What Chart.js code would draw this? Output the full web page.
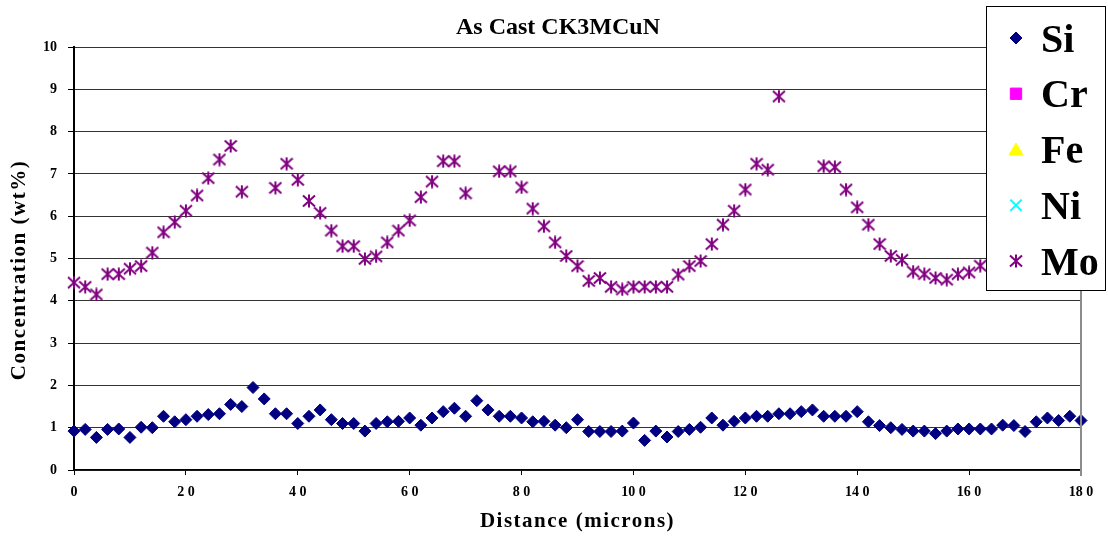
<!DOCTYPE html>
<html>
<head>
<meta charset="utf-8">
<title>As Cast CK3MCuN</title>
<script src="https://cdn.jsdelivr.net/npm/chart.js@4.4.1/dist/chart.umd.min.js"></script>
<style>
  html, body { margin: 0; padding: 0; background: #fff; }
  canvas { display: block; }
</style>
</head>
<body>
<canvas id="profileChart" width="1108" height="537"></canvas>
<script>
// Line scan across the as-cast structure, one reading every 2 microns
const chartTitle = 'As Cast CK3MCuN';
const yAxisTitle = 'Concentration (wt%)';

const distance = [
    0, 2, 4, 6, 8, 10, 12, 14, 16, 18,
    20, 22, 24, 26, 28, 30, 32, 34, 36, 38,
    40, 42, 44, 46, 48, 50, 52, 54, 56, 58,
    60, 62, 64, 66, 68, 70, 72, 74, 76, 78,
    80, 82, 84, 86, 88, 90, 92, 94, 96, 98,
    100, 102, 104, 106, 108, 110, 112, 114, 116, 118,
    120, 122, 124, 126, 128, 130, 132, 134, 136, 138,
    140, 142, 144, 146, 148, 150, 152, 154, 156, 158,
    160, 162, 164, 166, 168, 170, 172, 174, 176, 178,
    180
];

const xTickLabels = ['0', '2 0', '4 0', '6 0', '8 0', '10 0', '12 0', '14 0', '16 0', '18 0'];

const siValues = [
    0.92, 0.96, 0.77, 0.96, 0.97, 0.77, 1.01, 1.00, 1.27, 1.14,
    1.19, 1.27, 1.31, 1.33, 1.55, 1.50, 1.95, 1.68, 1.33, 1.33,
    1.10, 1.27, 1.42, 1.19, 1.10, 1.10, 0.92, 1.10, 1.14, 1.15,
    1.23, 1.06, 1.23, 1.38, 1.46, 1.27, 1.64, 1.42, 1.27, 1.27,
    1.23, 1.14, 1.15, 1.06, 1.00, 1.19, 0.91, 0.91, 0.91, 0.92,
    1.11, 0.70, 0.92, 0.78, 0.91, 0.96, 1.01, 1.23, 1.06, 1.15,
    1.23, 1.27, 1.27, 1.33, 1.33, 1.38, 1.42, 1.27, 1.27, 1.27,
    1.38, 1.14, 1.05, 1.00, 0.96, 0.92, 0.92, 0.86, 0.92, 0.97,
    0.97, 0.97, 0.97, 1.06, 1.05, 0.91, 1.14, 1.23, 1.17, 1.27,
    1.17
];

// null = no reading kept at that spot
const moValues = [
    4.43, 4.33, 4.15, 4.63, 4.63, 4.76, 4.82, 5.14, 5.62, 5.86,
    6.13, 6.49, 6.90, 7.34, 7.66, 6.58, null, null, 6.67, 7.24,
    6.86, 6.36, 6.08, 5.66, 5.29, 5.29, 4.99, 5.05, 5.38, 5.66,
    5.90, 6.45, 6.82, 7.30, 7.30, 6.54, null, null, 7.06, 7.06,
    6.68, 6.18, 5.76, 5.38, 5.06, 4.82, 4.47, 4.54, 4.33, 4.27,
    4.33, 4.33, 4.33, 4.33, 4.62, 4.82, 4.94, 5.34, 5.80, 6.13,
    6.63, 7.24, 7.10, 8.83, null, null, null, 7.18, 7.16, 6.63,
    6.21, 5.80, 5.34, 5.06, 4.97, 4.69, 4.63, 4.54, 4.50, 4.63,
    4.67, 4.83
];

const crValues = [];
const feValues = [];
const niValues = [];

function toPoints(values) {
    return values
        .map((v, i) => ({ x: distance[i], y: v }))
        .filter(p => p.y !== null);
}

// Excel style asterisk: an X with a vertical bar through it
function asteriskMarker(color) {
    const size = 14;
    const c = document.createElement('canvas');
    c.width = size;
    c.height = size;
    const g = c.getContext('2d');
    g.strokeStyle = color;
    g.lineWidth = 2;
    g.beginPath();
    g.moveTo(7, 0.5);  g.lineTo(7, 13.5);
    g.moveTo(1, 1.5);  g.lineTo(13, 12.5);
    g.moveTo(13, 1.5); g.lineTo(1, 12.5);
    g.stroke();
    return c;
}

const serif = '"Liberation Serif", "Times New Roman", Times, serif';
Chart.defaults.font.family = serif;
Chart.defaults.color = '#000';

// the x axis title is spaced out a little; tick labels are not
const spacedTitles = {
    id: 'spacedTitles',
    beforeDraw(chart) { chart.ctx.letterSpacing = '1.5px'; },
    beforeDatasetsDraw(chart) { chart.ctx.letterSpacing = '0px'; }
};

// titles, right frame line and the boxed legend sitting over the plot
const boxLegend = {
    id: 'boxLegend',
    afterDraw(chart, args, opts) {
        const ctx = chart.ctx;
        const area = chart.chartArea;
        ctx.save();
        ctx.letterSpacing = '0px';

        ctx.strokeStyle = '#8c8c8c';
        ctx.lineWidth = 2;
        ctx.beginPath();
        ctx.moveTo(area.right, area.top);
        ctx.lineTo(area.right, area.bottom + 6);
        ctx.stroke();

        ctx.fillStyle = '#000';
        ctx.font = 'bold 24px ' + serif;
        ctx.textAlign = 'center';
        ctx.textBaseline = 'alphabetic';
        ctx.fillText(chartTitle, opts.titleX, opts.titleY);

        // vertical axis title, spaced like the horizontal one
        ctx.save();
        ctx.letterSpacing = '1.5px';
        ctx.font = 'bold 21px ' + serif;
        ctx.textBaseline = 'middle';
        ctx.translate(opts.yTitleX, opts.yTitleY);
        ctx.rotate(-Math.PI / 2);
        ctx.fillText(yAxisTitle, 0, 0);
        ctx.restore();

        ctx.fillStyle = '#fff';
        ctx.fillRect(opts.x, opts.y, opts.width, opts.height);
        ctx.strokeStyle = '#000';
        ctx.lineWidth = 1;
        ctx.strokeRect(opts.x + 0.5, opts.y + 0.5, opts.width, opts.height);

        ctx.font = 'bold 40px ' + serif;
        ctx.textAlign = 'left';
        ctx.textBaseline = 'alphabetic';
        chart.data.datasets.forEach((ds, i) => {
            const cy = opts.y + opts.firstRow + i * opts.rowGap;
            ctx.fillStyle = ds.backgroundColor;
            ctx.strokeStyle = ds.borderColor;
            ctx.lineWidth = ds.borderWidth;
            Chart.helpers.drawPoint(ctx, {
                pointStyle: ds.pointStyle,
                radius: ds.pointRadius,
                rotation: 0,
                borderWidth: ds.borderWidth
            }, opts.markerX, cy + (ds.pointStyle === 'triangle' ? 1.5 : 0));
            ctx.fillStyle = '#000';
            ctx.fillText(ds.label, opts.textX, cy + 13.5);
        });
        ctx.restore();
    }
};

new Chart(document.getElementById('profileChart'), {
    type: 'scatter',
    data: {
        datasets: [
            { label: 'Si', data: toPoints(siValues), pointStyle: 'rectRot', pointRadius: 6,
              backgroundColor: '#000080', borderColor: '#000080', borderWidth: 1, clip: false },
            { label: 'Cr', data: toPoints(crValues), pointStyle: 'rect', pointRadius: 8,
              backgroundColor: '#ff00ff', borderColor: '#ff00ff', borderWidth: 1, clip: false },
            { label: 'Fe', data: toPoints(feValues), pointStyle: 'triangle', pointRadius: 8,
              backgroundColor: '#ffff00', borderColor: '#ffff00', borderWidth: 1, clip: false },
            { label: 'Ni', data: toPoints(niValues), pointStyle: 'crossRot', pointRadius: 8,
              backgroundColor: '#00ffff', borderColor: '#00ffff', borderWidth: 2, clip: false },
            { label: 'Mo', data: toPoints(moValues), pointStyle: asteriskMarker('#800080'), pointRadius: 7,
              backgroundColor: '#800080', borderColor: '#800080', borderWidth: 2, clip: false }
        ]
    },
    options: {
        responsive: false,
        animation: false,
        devicePixelRatio: 1,
        events: [],
        layout: { padding: { top: 47, right: 27, bottom: 0, left: 0 } },
        plugins: {
            legend: { display: false },
            tooltip: { enabled: false },
            boxLegend: {
                x: 986, y: 6, width: 119, height: 284,
                firstRow: 32, rowGap: 55.75,
                markerX: 1016, textX: 1041,
                titleX: 558, titleY: 34,
                yTitleX: 20, yTitleY: 270
            }
        },
        scales: {
            x: {
                type: 'linear',
                min: 0,
                max: 180,
                afterFit: (scale) => { scale.height = 67; },
                ticks: {
                    stepSize: 20,
                    z: 1,
                    padding: 9,
                    font: { size: 14, weight: 'bold' },
                    maxRotation: 0,
                    callback: (value) => xTickLabels[value / 20]
                },
                grid: { drawOnChartArea: false, drawTicks: true, tickLength: 5, color: '#000' },
                border: { color: '#000', width: 1.5 },
                title: {
                    display: true,
                    text: 'Distance (microns)',
                    font: { size: 21, weight: 'bold' },
                    padding: { top: 0, bottom: 3 }
                }
            },
            y: {
                min: 0,
                max: 10,
                afterFit: (scale) => { scale.width = 74; },
                ticks: {
                    stepSize: 1,
                    z: 1,
                    padding: 11,
                    font: { size: 14, weight: 'bold' }
                },
                grid: { color: '#333', lineWidth: 1, tickLength: 6, tickColor: '#000' },
                border: { color: '#000', width: 2 }
            }
        }
    },
    plugins: [spacedTitles, boxLegend]
});
</script>
</body>
</html>
